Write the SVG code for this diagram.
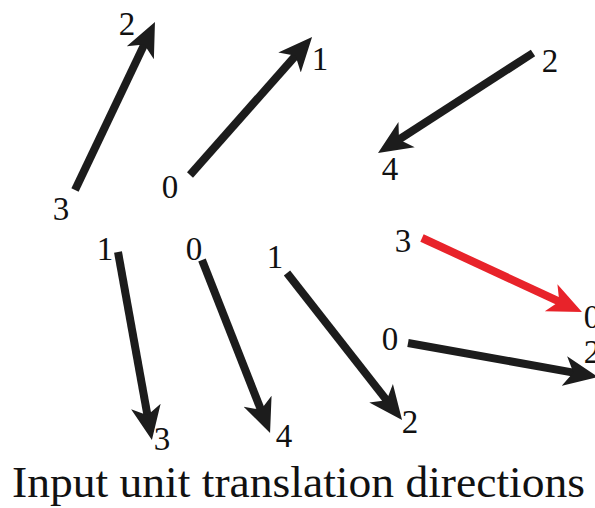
<svg xmlns="http://www.w3.org/2000/svg" width="595" height="508" viewBox="0 0 595 508">
  <style>
    .lbl { font-family: "Liberation Serif", "DejaVu Serif", serif; font-size: 33px; fill: #111; text-anchor: middle; }
    .cap { font-family: "Liberation Serif", "DejaVu Serif", serif; font-size: 44px; fill: #111; }
    .dir { fill: none; stroke: #1c1c1c; stroke-width: 8; stroke-linecap: butt; marker-end: url(#head); }
    .dir.hot { stroke: #e8232a; marker-end: url(#headRed); }
  </style>
  <defs>
    <marker id="head" markerUnits="userSpaceOnUse" markerWidth="36" markerHeight="34" viewBox="0 -17 36 34" refX="12" refY="0" orient="auto">
      <path d="M0,-15 L34,0 L0,15 L9,0 Z" fill="#1c1c1c"/>
    </marker>
    <marker id="headRed" markerUnits="userSpaceOnUse" markerWidth="36" markerHeight="34" viewBox="0 -17 36 34" refX="12" refY="0" orient="auto">
      <path d="M0,-15 L34,0 L0,15 L9,0 Z" fill="#e8232a"/>
    </marker>
  </defs>

  <!-- translation direction arrows -->
  <g id="connectors">
    <line class="dir" x1="75" y1="190" x2="145.5" y2="41.9"/>
    <line class="dir" x1="190" y1="175" x2="297.5" y2="53.5"/>
    <line class="dir" x1="533" y1="53" x2="396.5" y2="141.1"/>
    <line class="dir" x1="118" y1="252" x2="148.0" y2="418.3"/>
    <line class="dir" x1="202" y1="260" x2="262.0" y2="412.5"/>
    <line class="dir" x1="287" y1="273" x2="388.5" y2="402.6"/>
    <line class="dir hot" x1="422" y1="238" x2="562.0" y2="302.8"/>
    <line class="dir" x1="408" y1="343" x2="576.3" y2="373.1"/>
  </g>

  <!-- endpoint labels -->
  <g id="pair-3-2"><text class="lbl" x="61" y="220">3</text><text class="lbl" x="127" y="35">2</text></g>
  <g id="pair-0-1"><text class="lbl" x="170" y="198">0</text><text class="lbl" x="320" y="70">1</text></g>
  <g id="pair-2-4"><text class="lbl" x="550" y="72">2</text><text class="lbl" x="390" y="180">4</text></g>
  <g id="pair-1-3"><text class="lbl" x="105" y="260">1</text><text class="lbl" x="162" y="450">3</text></g>
  <g id="pair-0-4"><text class="lbl" x="194" y="260">0</text><text class="lbl" x="284" y="447">4</text></g>
  <g id="pair-1-2"><text class="lbl" x="275" y="268">1</text><text class="lbl" x="410" y="433">2</text></g>
  <g id="pair-3-0"><text class="lbl" x="403" y="252">3</text><text class="lbl" x="592" y="328">0</text></g>
  <g id="pair-0-2"><text class="lbl" x="390" y="350">0</text><text class="lbl" x="592" y="363">2</text></g>

  <g id="caption">
    <text class="cap" x="12" y="497" textLength="573" lengthAdjust="spacingAndGlyphs">Input unit translation directions</text>
  </g>
</svg>
